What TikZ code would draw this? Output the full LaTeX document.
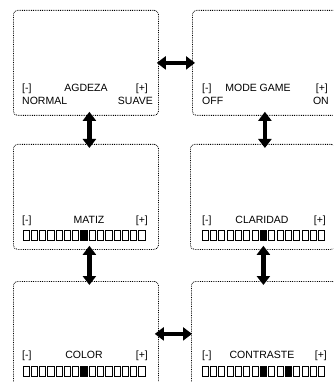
\documentclass[tikz,border=0pt]{standalone}
\usepackage{fontspec}
\setmainfont{Liberation Sans}
\usetikzlibrary{arrows.meta}
\tikzset{
  screen/.style={draw=black, densely dotted, line width=0.8pt, rounded corners=4pt,
    minimum width=145pt, minimum height=105pt, anchor=north west, inner sep=0pt},
  lbl/.style={inner sep=0pt, font=\fontsize{10.5}{12}\selectfont},
  dbl/.style={line width=4.4pt, {Triangle[width=13pt,length=9pt]}-{Triangle[width=13pt,length=9pt]}},
  cell/.style={draw=black, line width=0.8pt},
  cellon/.style={fill=black, draw=black, line width=0.8pt}
}
\begin{document}
\begin{tikzpicture}[x=1pt,y=-1pt]
\useasboundingbox (0,0) rectangle (333,382);
\clip (0,0) rectangle (333,382);
% screens
\node[screen] (b1) at (13,10) {};
\node[screen] (b2) at (192,10) {};
\node[screen] (b3) at (13,144) {};
\node[screen] (b4) at (190,144) {};
\node[screen] (b5) at (13,281) {};
\node[screen] (b6) at (191,281) {};
% arrows
\draw[dbl, shorten <=-2pt, shorten >=-3pt] (b1.east) -- (b2.west);
\draw[dbl, shorten <=-4pt, shorten >=-4pt] ([xshift=3.5pt]b1.south) -- ([xshift=3.5pt]b3.north);
\draw[dbl, shorten <=-4pt, shorten >=-4pt] (b2.south) -- (b2.south |- b4.north);
\draw[dbl, shorten <=-4pt, shorten >=-4pt] ([xshift=3.5pt]b3.south) -- ([xshift=3.5pt]b5.north);
\draw[dbl, shorten <=-4pt, shorten >=-4pt] ([xshift=0.5pt]b4.south) -- ([xshift=0.5pt]b4.south |- b6.north);
\draw[dbl, shorten <=-4pt, shorten >=-1pt] (b5.east) -- (b6.west);
% box 1
\node[lbl, anchor=base west] (t1a) at (22,92) {[-]};
\node[lbl, anchor=base] (t1b) at (86,92) {AGDEZA};
\node[lbl, anchor=base east] (t1c) at (148,92) {[+]};
\node[lbl, anchor=base west] (t1d) at (22,105) {NORMAL};
\node[lbl, anchor=base east] (t1e) at (153,105) {SUAVE};
% box 2
\node[lbl, anchor=base west] (t2a) at (202,92) {[-]};
\node[lbl, anchor=base] (t2b) at (258,92) {MODE GAME};
\node[lbl, anchor=base east] (t2c) at (328,92) {[+]};
\node[lbl, anchor=base west] (t2d) at (202,105) {OFF};
\node[lbl, anchor=base east] (t2e) at (329,105) {ON};
% box 3
\node[lbl, anchor=base west] (t3a) at (22,223) {[-]};
\node[lbl, anchor=base] (t3b) at (89,223) {MATIZ};
\node[lbl, anchor=base east] (t3c) at (148,223) {[+]};
% box 4
\node[lbl, anchor=base west] (t4a) at (202,223) {[-]};
\node[lbl, anchor=base] (t4b) at (262,223) {CLARIDAD};
\node[lbl, anchor=base east] (t4c) at (326,223) {[+]};
% box 5
\node[lbl, anchor=base west] (t5a) at (22,358) {[-]};
\node[lbl, anchor=base] (t5b) at (84,358) {COLOR};
\node[lbl, anchor=base east] (t5c) at (148,358) {[+]};
% box 6
\node[lbl, anchor=base west] (t6a) at (202,358) {[-]};
\node[lbl, anchor=base] (t6b) at (262,358) {CONTRASTE};
\node[lbl, anchor=base east] (t6c) at (327,358) {[+]};
% level bars
\foreach \i in {0,...,14} {
  \pgfmathsetmacro{\xa}{23+\i*8.27}
  \pgfmathsetmacro{\xb}{\xa+6.2}
  \ifnum\i=7
    \draw[cellon] (\xa,230) rectangle (\xb,240);
    \draw[cellon] (\xa,366) rectangle (\xb,376);
  \else
    \draw[cell] (\xa,230) rectangle (\xb,240);
    \draw[cell] (\xa,366) rectangle (\xb,376);
  \fi
  \pgfmathsetmacro{\xc}{202+\i*8.33}
  \pgfmathsetmacro{\xd}{\xc+6.2}
  \ifnum\i=7
    \draw[cellon] (\xc,230) rectangle (\xd,240);
  \else
    \draw[cell] (\xc,230) rectangle (\xd,240);
  \fi
  \ifnum\i=7
    \draw[cellon] (\xc,366) rectangle (\xd,376);
  \else\ifnum\i=10
    \draw[cellon] (\xc,366) rectangle (\xd,376);
  \else
    \draw[cell] (\xc,366) rectangle (\xd,376);
  \fi\fi
}
\end{tikzpicture}
\end{document}
